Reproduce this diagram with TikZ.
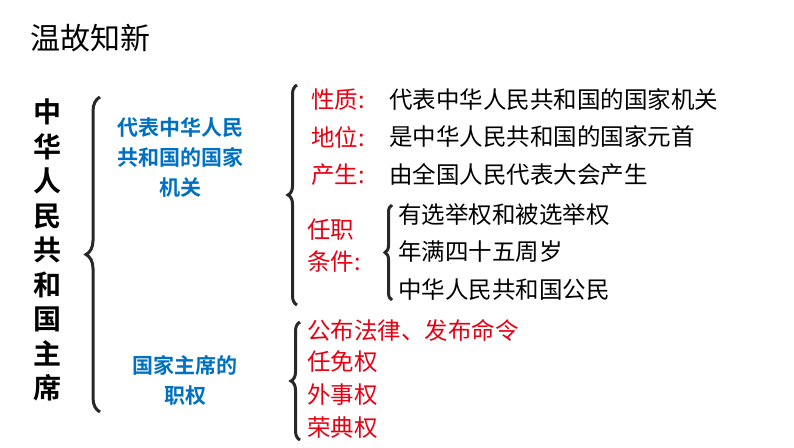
\documentclass[tikz,border=0pt]{standalone}
\usepackage{fontspec}
\setmainfont{Noto Sans CJK SC}[BoldFont={Noto Sans CJK SC Bold}]
\usetikzlibrary{decorations.pathreplacing}
\definecolor{myred}{RGB}{230,0,18}
\definecolor{myblue}{RGB}{0,112,192}
\definecolor{brc}{RGB}{40,40,40}
\begin{document}
\begin{tikzpicture}[x=1pt,y=-1pt,
  bt/.style={font=\fontsize{23.5}{32}\selectfont,anchor=west,inner sep=0},
  rt/.style={bt,text=myred},
  blu/.style={font=\bfseries\fontsize{21}{30}\selectfont,text=myblue,align=center,inner sep=0},
  brc/.style={draw=brc,line width=3pt,decorate,decoration={brace,amplitude=#1}}]
\useasboundingbox (0,0) rectangle (794,447);
\node[anchor=west,font=\fontsize{30}{34}\selectfont,inner sep=0] (title) at (30,38) {温故知新};
\node[font=\bfseries\fontsize{28}{34.5}\selectfont,align=center,inner sep=0] (main) at (47,250) {中\\华\\人\\民\\共\\和\\国\\主\\席};
\draw[brc=14] (100,412) -- (100,97);
\node[blu] (org) at (180,157) {代表中华人民\\共和国的国家\\机关};
\node[blu] (pw) at (185,380) {国家主席的\\职权};
\draw[brc=9] (297,305) -- (297,85);
\draw[brc=9] (300,440) -- (300,322);
\node[rt] (xz) at (311,100) {性质:};
\node[bt] (xz2) at (389,100) {代表中华人民共和国的国家机关};
\node[rt] (dw) at (311,137) {地位:};
\node[bt] (dw2) at (389,137) {是中华人民共和国的国家元首};
\node[rt] (cs) at (311,175) {产生:};
\node[bt] (cs2) at (389,175) {由全国人民代表大会产生};
\node[rt,align=left] (rz) at (307,246) {任职\\条件:};
\draw[brc=7] (392,300) -- (392,205);
\node[bt] (c1) at (398,215) {有选举权和被选举权};
\node[bt] (c2) at (398,252) {年满四十五周岁};
\node[bt] (c3) at (398,290) {中华人民共和国公民};
\node[rt] (p1) at (307,330) {公布法律、发布命令};
\node[rt] (p2) at (307,362) {任免权};
\node[rt] (p3) at (307,395) {外事权};
\node[rt] (p4) at (307,428) {荣典权};
\end{tikzpicture}
\end{document}
